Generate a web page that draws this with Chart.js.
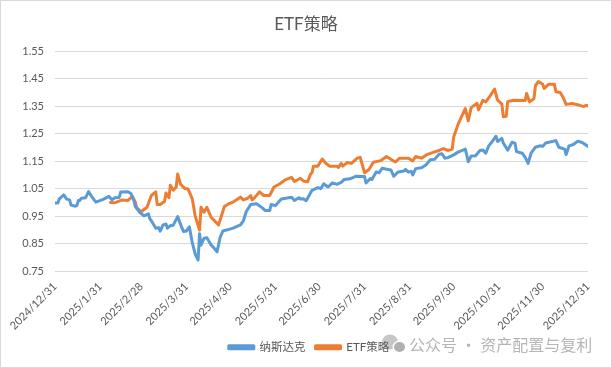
<!DOCTYPE html>
<html><head><meta charset="utf-8">
<script src="https://cdn.jsdelivr.net/npm/chart.js@4"></script>
<style>
html,body{margin:0;padding:0;background:#fff}
#wrap{position:relative;width:612px;height:368px;overflow:hidden}
canvas{position:absolute;left:0;top:0}
#edge{position:absolute;left:0;top:0;width:612px;height:368px;box-sizing:border-box;border:1px solid #d9d9d9;pointer-events:none}
</style></head><body>
<div id="wrap"><canvas id="c" width="612" height="368"></canvas><div id="edge"></div></div>
<script>
const chartTitle = "ETF策略";
const seriesNames = ["纳斯达克", "ETF策略"];
const watermark = "公众号 · 资产配置与复利";
const tickDays = [0,31,59,90,120,151,181,212,243,273,304,334,365];
const tickLabels = ["2024/12/31","2025/1/31","2025/2/28","2025/3/31","2025/4/30","2025/5/31","2025/6/30","2025/7/31","2025/8/31","2025/9/30","2025/10/31","2025/11/30","2025/12/31"];
const nasdaqDays = [0,2,3,6,8,10,11,14,15,16,17,18,21,23,25,28,33,37,39,41,44,45,50,52,54,55,58,61,64,65,66,69,71,72,74,76,77,79,81,84,87,88,90,92,94,96,98,99,100,102,104,107,108,111,113,115,118,122,127,129,131,134,138,142,144,147,148,151,153,155,159,162,164,167,168,170,172,174,176,180,182,184,187,190,193,196,198,202,206,212,213,216,217,220,222,224,228,230,232,235,239,240,242,244,245,247,251,254,257,260,263,265,267,269,273,276,281,283,285,288,291,293,295,297,299,302,303,306,307,310,313,315,316,320,322,324,326,329,332,334,336,343,345,349,350,352,355,358,361,365];
const nasdaqValues = [0.998,0.998,1.013,1.027,1.012,1.009,0.99,0.986,0.988,1.007,1.007,1.015,1.017,1.039,1.022,1.001,1.011,1.022,1.009,1.017,1.018,1.038,1.039,1.032,1.007,0.985,0.964,0.951,0.958,0.939,0.933,0.906,0.908,0.895,0.918,0.921,0.906,0.915,0.917,0.948,0.906,0.894,0.896,0.911,0.853,0.812,0.79,0.886,0.844,0.869,0.871,0.844,0.839,0.82,0.871,0.896,0.9,0.906,0.918,0.933,0.967,0.992,0.995,0.98,0.97,0.97,0.992,0.988,1.001,1.012,1.016,1.019,1.007,1.017,1.012,1.013,1.006,1.025,1.044,1.054,1.05,1.068,1.056,1.071,1.066,1.073,1.083,1.086,1.095,1.094,1.071,1.087,1.083,1.111,1.108,1.124,1.12,1.118,1.095,1.111,1.114,1.12,1.11,1.113,1.1,1.123,1.126,1.136,1.155,1.157,1.175,1.177,1.161,1.163,1.173,1.183,1.194,1.148,1.169,1.17,1.189,1.191,1.179,1.206,1.219,1.241,1.222,1.233,1.216,1.19,1.219,1.216,1.185,1.179,1.164,1.142,1.179,1.201,1.206,1.204,1.216,1.225,1.201,1.194,1.174,1.206,1.211,1.223,1.218,1.204];
const etfDays = [38,41,43,46,50,53,55,56,59,63,66,69,70,72,75,76,78,79,81,83,84,86,89,91,94,96,97,99,100,102,104,107,110,112,114,116,119,122,127,129,132,134,135,137,140,143,147,150,154,158,162,164,168,170,173,175,176,177,180,183,185,188,193,194,196,197,200,203,207,209,212,215,218,223,227,233,236,242,245,247,251,255,259,263,266,269,272,273,276,281,283,285,289,290,293,295,298,301,303,306,307,309,310,314,322,323,325,328,329,331,334,335,338,342,343,346,348,350,354,358,362,364,365];
const etfValues = [0.9995,0.999,1.003,1.009,1.007,1.022,1.001,0.98,0.966,0.982,1.025,1.038,0.992,0.992,1.003,1.034,1.017,1.062,1.044,1.056,1.103,1.066,1.05,1.05,1.013,0.951,0.933,0.899,0.982,0.964,0.982,0.945,0.929,0.918,0.951,0.985,0.995,1.001,1.019,1.009,1.015,1.025,1.009,1.019,1.038,1.025,1.025,1.056,1.068,1.083,1.091,1.076,1.088,1.078,1.075,1.103,1.108,1.132,1.132,1.158,1.145,1.132,1.132,1.127,1.142,1.132,1.145,1.142,1.161,1.164,1.108,1.12,1.146,1.152,1.167,1.147,1.161,1.161,1.151,1.167,1.161,1.175,1.182,1.189,1.196,1.189,1.194,1.238,1.284,1.342,1.297,1.345,1.361,1.337,1.372,1.366,1.388,1.413,1.373,1.358,1.312,1.314,1.367,1.372,1.371,1.397,1.366,1.378,1.425,1.44,1.43,1.415,1.43,1.43,1.403,1.4,1.382,1.357,1.36,1.356,1.349,1.354,1.351];
const yTicks = [0.75,0.85,0.95,1.05,1.15,1.25,1.35,1.45,1.55];

const pairs = (xs, ys) => xs.map((x, i) => ({x, y: ys[i]}));
const textFont = "Lato, 'Noto Sans CJK SC', sans-serif";

const placementPlugin = {
  id: 'placement',
  afterLayout(chart) {
    const t = chart.titleBlock, l = chart.legend, x = chart.scales.x;
    t.left += 12; t.right += 12; t.top += 3; t.bottom += 3;
    l.left += 15; l.right += 15; l.top += 7; l.bottom += 7;
    x.bottom += 20;
  }
};

const watermarkPlugin = {
  id: 'watermark',
  beforeDraw(chart) {
    const c = chart.ctx;
    c.save();
    c.fillStyle = '#b5b5b5';
    c.font = "16px 'Noto Sans CJK SC', sans-serif";
    c.textAlign = 'left';
    c.textBaseline = 'middle';
    c.fillText(watermark, 409, 345);
    c.fillStyle = '#c6c6c6';
    c.beginPath(); c.ellipse(390, 342, 8, 7.5, 0, 0, Math.PI * 2); c.fill();
    c.fillStyle = '#ffffff';
    c.beginPath(); c.ellipse(399.5, 347, 7, 6.5, 0, 0, Math.PI * 2); c.fill();
    c.fillStyle = '#b0b0b0';
    c.beginPath(); c.ellipse(399.5, 347, 5.5, 5, 0, 0, Math.PI * 2); c.fill();
    c.restore();
  }
};

new Chart(document.getElementById('c'), {
  type: 'line',
  plugins: [placementPlugin, watermarkPlugin],
  data: { datasets: [
    { label: seriesNames[0], data: pairs(nasdaqDays, nasdaqValues), borderColor: '#5b9bd5', backgroundColor: '#5b9bd5' },
    { label: seriesNames[1], data: pairs(etfDays, etfValues), borderColor: '#ed7d31', backgroundColor: '#ed7d31' }
  ]},
  options: {
    responsive: false,
    animation: false,
    layout: { padding: { left: 0, right: 24, top: 11, bottom: 12 } },
    elements: {
      line: { borderWidth: 3, tension: 0, borderCapStyle: 'round', borderJoinStyle: 'round' },
      point: { radius: 0 }
    },
    plugins: {
      tooltip: { enabled: false },
      title: { display: true, text: chartTitle, color: '#595959', font: { family: textFont, size: 17, weight: 'normal' }, padding: { top: 0, bottom: 20 } },
      legend: {
        position: 'bottom',
        labels: { color: '#595959', font: { family: textFont, size: 11.5 }, boxWidth: 25, boxHeight: 3, padding: 10 }
      }
    },
    scales: {
      x: {
        type: 'linear', min: 0, max: 365,
        afterBuildTicks(s) { s.ticks = tickDays.map(v => ({value: v})); },
        afterFit(s) { s.height = 53.5; },
        grid: { display: false, drawTicks: false },
        border: { display: false },
        ticks: {
          autoSkip: false, maxRotation: 45, minRotation: 45, padding: 9,
          color: '#595959', font: { family: textFont, size: 11 },
          callback: (v) => tickLabels[tickDays.indexOf(v)]
        }
      },
      y: {
        min: 0.75, max: 1.55,
        afterBuildTicks(s) { s.ticks = yTicks.map(v => ({value: v})); },
        afterFit(s) { s.width = 55; },
        grid: { color: '#d9d9d9', lineWidth: 1, drawTicks: false },
        border: { display: false },
        ticks: {
          padding: 11, color: '#595959', font: { family: textFont, size: 11 },
          callback: (v) => v.toFixed(2)
        }
      }
    }
  }
});
</script>
</body></html>
